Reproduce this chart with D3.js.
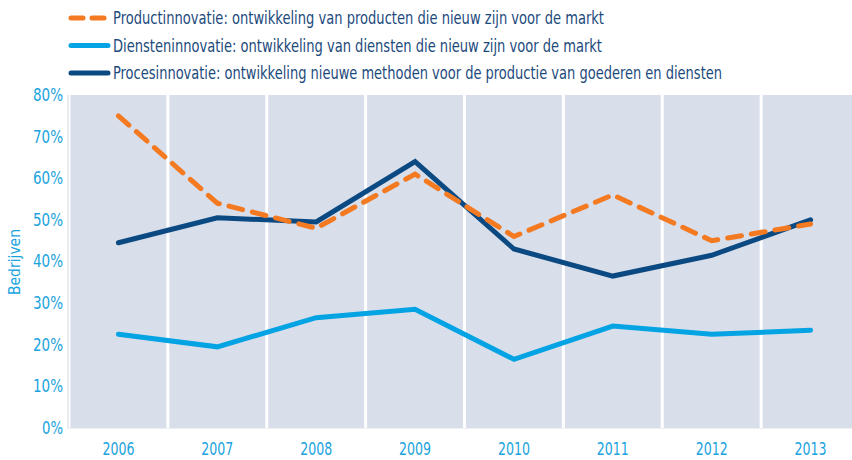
<!DOCTYPE html>
<html>
<head>
<meta charset="utf-8">
<script src="https://cdn.jsdelivr.net/npm/d3@7"></script>
<style>
  body { margin: 0; background: #fff; }
  text { font-family: "DejaVu Sans Condensed", "Liberation Sans Narrow", sans-serif; }
</style>
</head>
<body>
<div id="chart"></div>
<script>
'use strict';

// data
const years = ["2006", "2007", "2008", "2009", "2010", "2011", "2012", "2013"];
const product = [75, 54, 48, 61, 46, 56, 45, 49];
const services = [22.5, 19.5, 26.5, 28.5, 16.5, 24.5, 22.5, 23.5];
const process = [44.5, 50.5, 49.5, 64, 43, 36.5, 41.5, 50];
const yTicks = [0, 10, 20, 30, 40, 50, 60, 70, 80];

const legendLabels = [
  "Productinnovatie: ontwikkeling van producten die nieuw zijn voor de markt",
  "Diensteninnovatie: ontwikkeling van diensten die nieuw zijn voor de markt",
  "Procesinnovatie: ontwikkeling nieuwe methoden voor de productie van goederen en diensten"
];

const W = 852, H = 460;
const plotLeft = 69, plotRight = 860, plotTop = 95, plotBottom = 428;

const svg = d3.select('#chart').append('svg').attr('width', W).attr('height', H);

const x = d3.scaleBand().domain(years).range([plotLeft, plotRight]).padding(0);
const y = d3.scaleLinear().domain([0, 80]).range([plotBottom, plotTop]);

// bands
svg.append('g').selectAll('rect').data(years).join('rect')
  .attr('x', d => x(d) + 1.5)
  .attr('y', plotTop)
  .attr('width', x.bandwidth() - 3)
  .attr('height', plotBottom - plotTop)
  .attr('fill', '#d8deea');

// left border
svg.append('line')
  .attr('x1', plotLeft - 1).attr('x2', plotLeft - 1)
  .attr('y1', plotTop).attr('y2', plotBottom + 1)
  .attr('stroke', '#e4e6ea').attr('stroke-width', 1.5);
svg.append('line')
  .attr('x1', plotLeft - 1).attr('x2', plotRight)
  .attr('y1', plotBottom + 0.5).attr('y2', plotBottom + 0.5)
  .attr('stroke', '#eef0f3').attr('stroke-width', 1);

// y axis
const yAxis = svg.append('g')
  .attr('transform', 'translate(' + (plotLeft - 6) + ',0)')
  .call(d3.axisLeft(y).tickValues(yTicks).tickSize(0).tickPadding(0).tickFormat(d => d + '%'));
yAxis.select('.domain').remove();
yAxis.selectAll('text')
  .attr('fill', '#1aa3de')
  .attr('font-size', 17)
  .attr('textLength', d => d === 0 ? 21 : 30)
  .attr('lengthAdjust', 'spacingAndGlyphs');

// x axis
const xAxis = svg.append('g')
  .attr('transform', 'translate(0,' + plotBottom + ')')
  .call(d3.axisBottom(x).tickSize(0).tickPadding(15));
xAxis.select('.domain').remove();
xAxis.selectAll('text')
  .attr('fill', '#1aa3de')
  .attr('font-size', 17)
  .attr('textLength', 32)
  .attr('lengthAdjust', 'spacingAndGlyphs');

// y label
svg.append('text')
  .attr('transform', 'translate(20,262) rotate(-90)')
  .attr('text-anchor', 'middle')
  .attr('fill', '#1aa3de')
  .attr('font-size', 16)
  .attr('textLength', 66)
  .attr('lengthAdjust', 'spacingAndGlyphs')
  .text('Bedrijven');

const line = d3.line()
  .x((d, i) => x(years[i]) + x.bandwidth() / 2)
  .y(d => y(d));

const series = [
  { values: services, color: '#04a3e3', dash: null },
  { values: process, color: '#0b4982', dash: null },
  { values: product, color: '#f47a22', dash: '14 10' }
];

series.forEach(function (s) {
  svg.append('path')
    .datum(s.values)
    .attr('d', line)
    .attr('fill', 'none')
    .attr('stroke', s.color)
    .attr('stroke-width', 5)
    .attr('stroke-linecap', 'round')
    .attr('stroke-linejoin', 'miter')
    .attr('stroke-dasharray', s.dash);
});

// legend
const legendItems = [
  { label: legendLabels[0], color: '#f47a22', dash: '12 9', len: 491 },
  { label: legendLabels[1], color: '#04a3e3', dash: null, len: 489 },
  { label: legendLabels[2], color: '#0b4982', dash: null, len: 609 }
];
const lg = svg.append('g').selectAll('g').data(legendItems).join('g')
  .attr('transform', (d, i) => 'translate(0,' + (18 + i * 27.5) + ')');
lg.append('line')
  .attr('x1', 71).attr('x2', 108)
  .attr('stroke', d => d.color)
  .attr('stroke-width', 5)
  .attr('stroke-linecap', 'round')
  .attr('stroke-dasharray', d => d.dash);
lg.append('text')
  .attr('x', 113)
  .attr('dy', '0.35em')
  .attr('fill', '#1c4a7c')
  .attr('font-size', 18)
  .attr('textLength', d => d.len)
  .attr('lengthAdjust', 'spacingAndGlyphs')
  .text(d => d.label);
</script>
</body>
</html>
